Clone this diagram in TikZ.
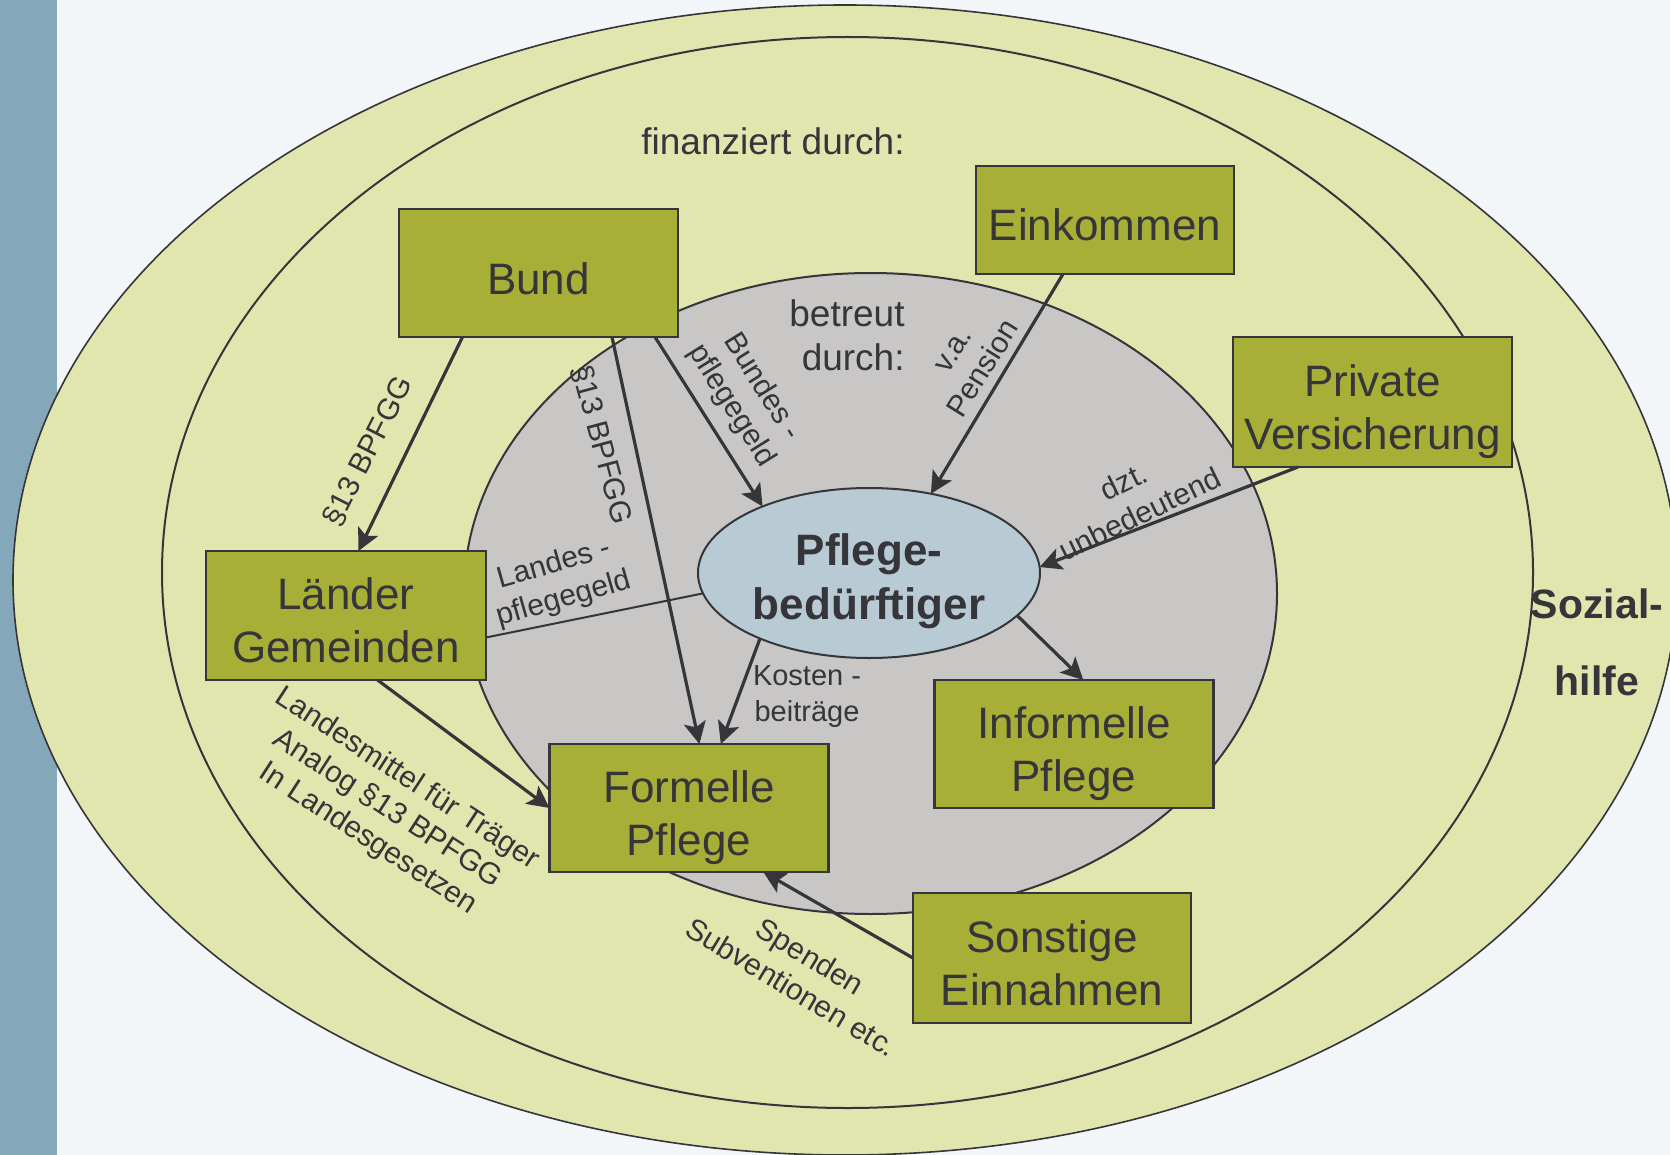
\documentclass[tikz,border=0pt]{standalone}
\usepackage{fontspec}
\setmainfont{Liberation Sans}
\usetikzlibrary{arrows.meta,shapes.geometric,calc}
\definecolor{bgc}{HTML}{F2F6F8}
\definecolor{barc}{HTML}{84A7B9}
\definecolor{yel}{HTML}{E1E6AF}
\definecolor{gry}{HTML}{C8C7C6}
\definecolor{blu}{HTML}{B8CBD5}
\definecolor{olv}{HTML}{A8AF37}
\definecolor{ink}{HTML}{35353A}
\begin{document}
\begin{tikzpicture}[x=0.5pt,y=-0.5pt,
  box/.style={draw=ink, line width=1.2pt, fill=olv, inner sep=0pt, outer sep=0pt,
    align=center, text=ink, font=\fontsize{22}{26.5}\selectfont},
  oneline/.style={text height=21pt, text depth=0pt},
  twoline/.style={text height=47pt, text depth=0pt},
  arr/.style={draw=ink, line width=1.6pt, -{Stealth[length=11pt,width=11pt,inset=2.5pt]}},
  plain/.style={draw=ink, line width=1pt},
  lbl/.style={text=ink, align=center, inner sep=0pt, font=\fontsize{15}{18}\selectfont},
  ring/.style={draw=ink, fill=yel},
]
\useasboundingbox (0,0) rectangle (1670,1155);
\clip (0,0) rectangle (1670,1155);
\fill[bgc] (0,0) rectangle (1670,1155);
\fill[barc] (0,0) rectangle (57,1155);
% rings
\draw[ring, line width=0.8pt] (845,580) ellipse [x radius=832, y radius=575];
\draw[ring, line width=1pt] (847.5,572.5) ellipse [x radius=685.5, y radius=535.5];
\draw[draw=ink, fill=gry, line width=1pt] (870.5,593.5) ellipse [x radius=406.5, y radius=320.5];
% free texts
\node[text=ink, anchor=base, inner sep=0pt, font=\fontsize{18.5}{21.5}\selectfont] (fin) at (773,155) {finanziert durch:};
\node[text=ink, anchor=base east, align=right, inner sep=0pt, font=\fontsize{18.5}{21.5}\selectfont] (betr) at (905,370) {betreut\\durch:};
\node[text=ink, anchor=base, align=center, inner sep=0pt, font=\fontsize{20.5}{38.5}\selectfont\bfseries] (sozial) at (1597,695) {Sozial-\\hilfe};
% boxes
\node[box, oneline, minimum width=139.5pt, minimum height=64pt] (bund) at (538.5,273) {Bund};
\node[box, oneline, minimum width=129pt, minimum height=54pt] (eink) at (1105,220) {Einkommen};
\node[box, twoline, minimum width=139.5pt, minimum height=65pt] (priv) at (1372.5,402) {Private\\Versicherung};
\node[box, twoline, minimum width=140pt, minimum height=64.5pt] (laender) at (346,615.5) {Länder\\Gemeinden};
\node[box, twoline, minimum width=139.5pt, minimum height=64pt] (formelle) at (689,808) {Formelle\\Pflege};
\node[box, twoline, minimum width=139.5pt, minimum height=64pt] (informelle) at (1074,744) {Informelle\\Pflege};
\node[box, twoline, minimum width=139pt, minimum height=65pt] (sonst) at (1052,958) {Sonstige\\Einnahmen};
\node[ellipse, draw=ink, fill=blu, line width=1pt, inner sep=0pt, outer sep=0pt,
  minimum width=171pt, minimum height=85pt, align=center, text=ink,
  text height=46pt, text depth=0pt,
  font=\fontsize{22}{27}\selectfont\bfseries] (pb) at (869,573) {Pflege-\\bedürftiger};
% connectors
\draw[arr] ([xshift=-38pt]bund.south) -- ([xshift=6.25pt]laender.north);
\draw[arr] ([xshift=36.75pt]bund.south) -- ([xshift=5.2pt]formelle.north);
\draw[arr] ([xshift=58.25pt]bund.south) -- (pb.148.6);
\draw[arr] ([xshift=-21pt]eink.south) -- (pb.52.5);
\draw[arr] ([xshift=-37.25pt]priv.south) -- (pb.2);
\draw[arr] (pb.-16) -- ([xshift=4.65pt]informelle.north);
\draw[arr] (pb.211.6) -- ([xshift=15.9pt]formelle.north);
\draw[arr] ([xshift=15.75pt]laender.south) -- (formelle.west);
\draw[plain] ([yshift=-11pt]laender.east) -- (pb.187);
\draw[arr] (sonst.west) -- ([xshift=37.15pt]formelle.south);
% labels
\node[lbl, rotate=63] (l1) at (367.8,451.5) {§13 BPFGG};
\node[lbl, rotate=-75] (l2) at (602,444.6) {§13 BPFGG};
\node[lbl, rotate=-58] (l3) at (746.6,396.4) {Bundes -\\pflegegeld};
\node[lbl, rotate=16] (l4) at (559,582) {Landes -\\pflegegeld};
\node[lbl, rotate=58] (l5) at (969,360) {v.a.\\Pension};
\node[lbl, rotate=26] (l6) at (1131.7,497.7) {dzt.\\unbedeutend};
\node[lbl, rotate=-33] (l7) at (387.3,809.3) {Landesmittel für Träger\\Analog §13 BPFGG\\In Landesgesetzen};
\node[lbl, rotate=-31] (l8) at (801,971.7) {Spenden\\Subventionen etc.};
\node[lbl, font=\fontsize{14.5}{18}\selectfont] (l9) at (807,697) {Kosten -\\beiträge};
\end{tikzpicture}
\end{document}
